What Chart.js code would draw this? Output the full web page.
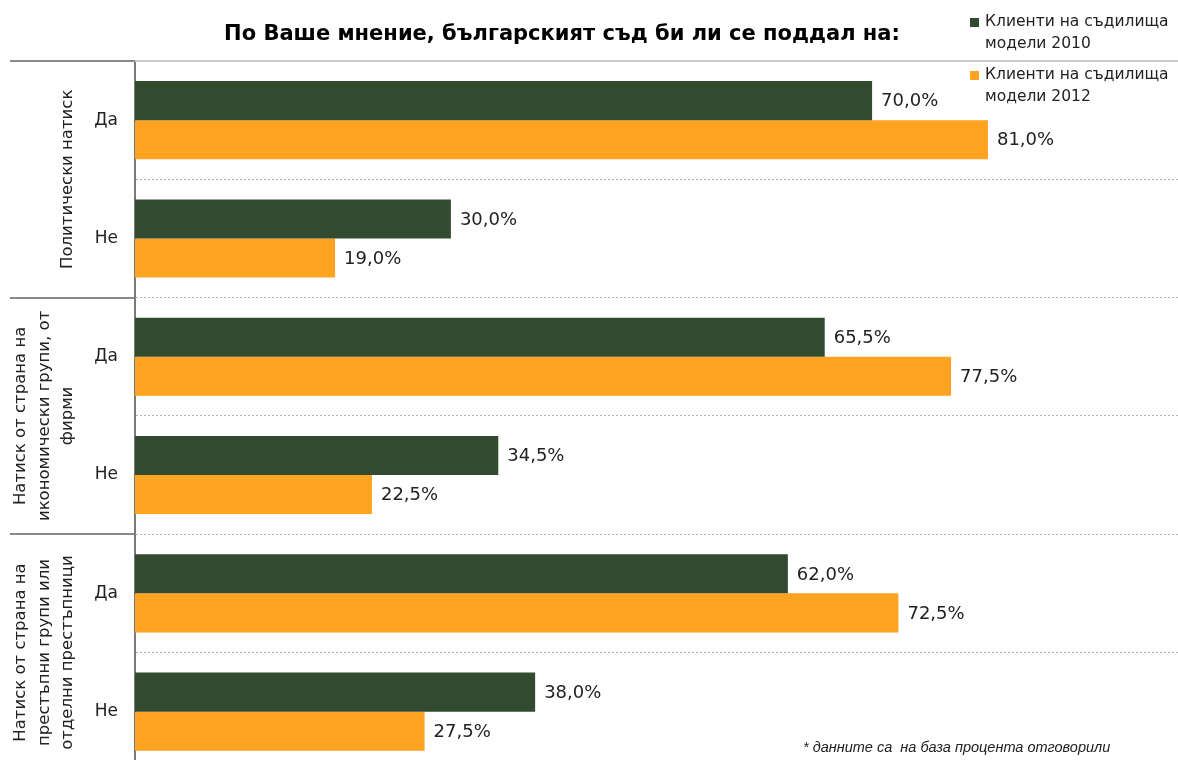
<!DOCTYPE html>
<html lang="bg">
<head>
<meta charset="UTF-8">
<title>Натиск върху съда</title>
<script src="https://cdn.jsdelivr.net/npm/chart.js"></script>
<style>
  html, body { margin: 0; padding: 0; background: #fff; overflow: hidden; }
  #wrap { position: relative; width: 1190px; height: 798px; }
</style>
</head>
<body>
<div id="wrap"><canvas id="grafico" width="1190" height="798"></canvas></div>
<script>
const categorias = ['Да', 'Не', 'Да', 'Не', 'Да', 'Не'];
const grupos = [
  ['Политически натиск'],
  ['Натиск от страна на', 'икономически групи, от', 'фирми'],
  ['Натиск от страна на', 'престъпни групи или', 'отделни престъпници']
];
const serie2010 = [70.0, 30.0, 65.5, 34.5, 62.0, 38.0];
const serie2012 = [81.0, 19.0, 77.5, 22.5, 72.5, 27.5];
const legenda = [['Клиенти на съдилища', 'модели 2010'], ['Клиенти на съдилища', 'модели 2012']];
const cores = ['#324a30', '#ffa320'];
const titulo = 'По Ваше мнение, българският съд би ли се поддал на:';
const rodape = '* данните са  на база процента отговорили';

const fonte = 'DejaVu Sans';

function formatar(v) {
  return v.toFixed(1).replace('.', ',') + '%';
}

// linhas dos grupos, rótulos, título, legenda e nota
const extras = {
  id: 'extras',
  afterDatasetsDraw(chart) {
    const ctx = chart.ctx;
    const area = chart.chartArea;
    const passo = (area.bottom - area.top) / categorias.length;
    ctx.save();

    // linha do topo
    ctx.strokeStyle = '#cccccc';
    ctx.lineWidth = 2;
    ctx.beginPath();
    ctx.moveTo(area.left, area.top);
    ctx.lineTo(area.right, area.top);
    ctx.stroke();

    // separadores dos grupos à esquerda do eixo
    ctx.strokeStyle = '#8a8a8a';
    for (let g = 0; g <= grupos.length; g++) {
      const yy = Math.round(area.top + g * 2 * passo);
      ctx.beginPath();
      ctx.moveTo(10, yy);
      ctx.lineTo(area.left, yy);
      ctx.stroke();
    }

    // nomes dos grupos (rodados)
    ctx.fillStyle = '#222';
    ctx.font = '16.5px "' + fonte + '"';
    ctx.textAlign = 'center';
    ctx.textBaseline = 'middle';
    grupos.forEach((linhas, g) => {
      const cy = area.top + (g * 2 + 1) * passo;
      linhas.forEach((txt, k) => {
        const x = 68 - (linhas.length - 1 - k) * 23.5;
        ctx.save();
        ctx.translate(x, cy);
        ctx.rotate(-Math.PI / 2);
        ctx.fillText(txt, 0, 0);
        ctx.restore();
      });
    });

    // valores nas barras
    ctx.font = '18px "' + fonte + '"';
    ctx.textAlign = 'left';
    chart.data.datasets.forEach((ds, i) => {
      chart.getDatasetMeta(i).data.forEach((bar, j) => {
        ctx.fillText(formatar(ds.data[j]), bar.x + 9, bar.y + 1);
      });
    });

    // título
    ctx.font = 'bold 21px "' + fonte + '"';
    ctx.textAlign = 'center';
    ctx.fillStyle = '#000';
    ctx.fillText(titulo, 562, 35);

    // legenda
    ctx.font = '15.5px "' + fonte + '"';
    ctx.textAlign = 'left';
    legenda.forEach((linhas, i) => {
      const y0 = 22 + i * 53;
      ctx.fillStyle = cores[i];
      ctx.fillRect(970, y0 - 4, 9, 9);
      ctx.fillStyle = '#222';
      linhas.forEach((txt, k) => ctx.fillText(txt, 985, y0 + k * 22));
    });

    // nota de rodapé
    ctx.font = 'italic 14.5px "Liberation Sans"';
    ctx.fillStyle = '#222';
    ctx.fillText(rodape, 803, 748);

    ctx.restore();
  }
};

new Chart(document.getElementById('grafico'), {
  type: 'bar',
  data: {
    labels: categorias,
    datasets: [
      { label: legenda[0].join(' '), data: serie2010, backgroundColor: cores[0] },
      { label: legenda[1].join(' '), data: serie2012, backgroundColor: cores[1] }
    ]
  },
  options: {
    indexAxis: 'y',
    responsive: false,
    animation: false,
    layout: { padding: { top: 61, bottom: 21, right: 2, left: 0 } },
    datasets: { bar: { barPercentage: 1, categoryPercentage: 0.66 } },
    plugins: {
      legend: { display: false },
      tooltip: { enabled: false },
      title: { display: false }
    },
    scales: {
      x: { display: false, min: 0, max: 100 },
      y: {
        grid: { color: '#b4b4b4', lineWidth: 1, drawTicks: false, offset: true },
        border: { color: '#7a7a7a', width: 2, dash: [2, 2] },
        ticks: { color: '#222', font: { family: fonte, size: 17 }, padding: 17 },
        afterFit(scale) { scale.width = 135; }
      }
    }
  },
  plugins: [extras]
});
</script>
</body>
</html>
